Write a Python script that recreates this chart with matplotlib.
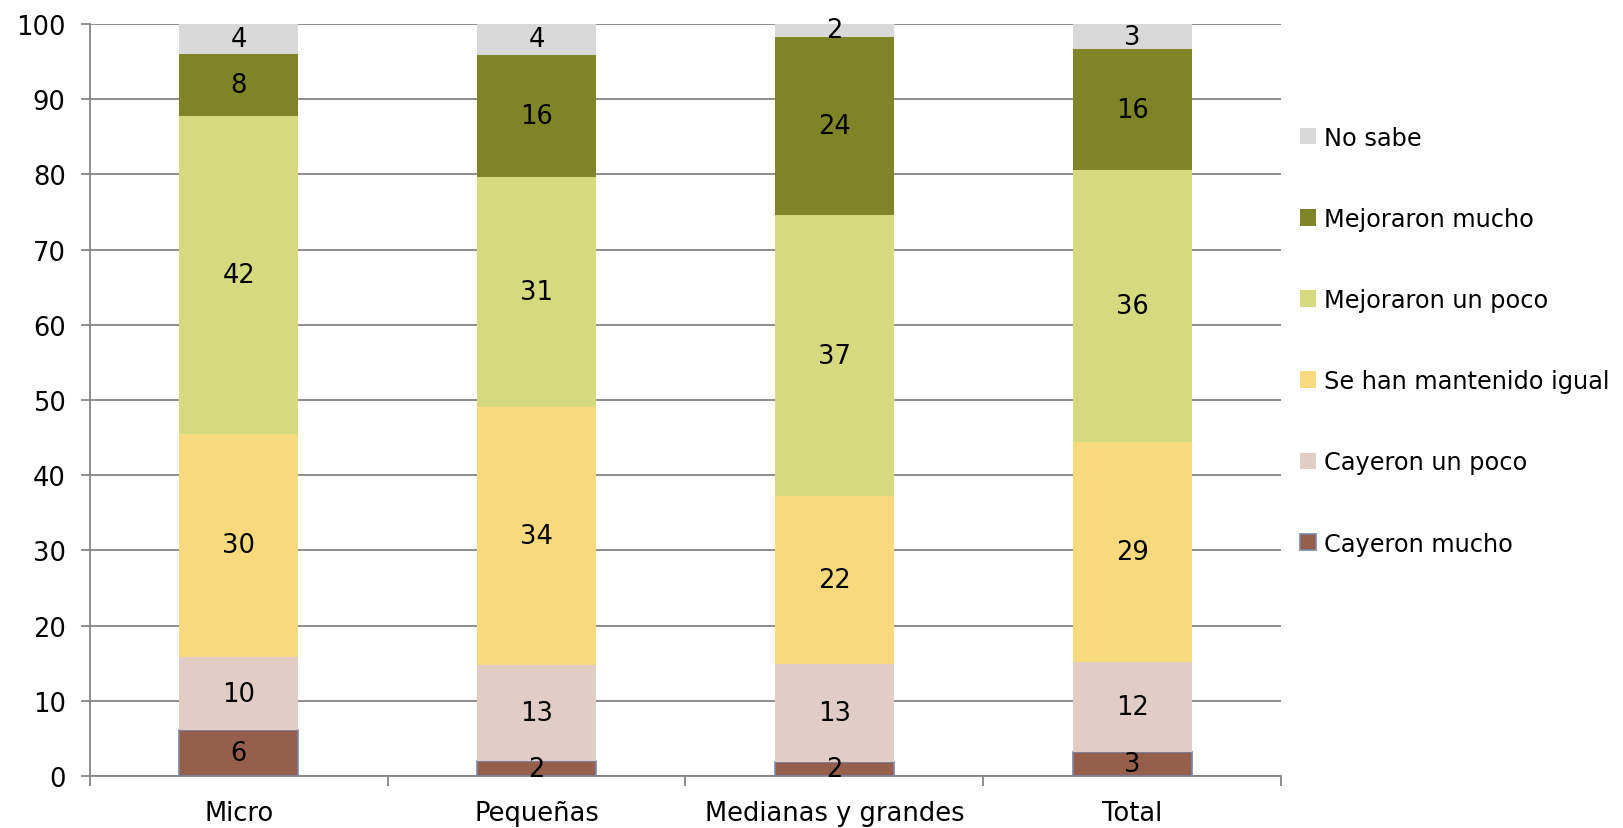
import matplotlib
matplotlib.use("Agg")
import matplotlib.pyplot as plt
import numpy as np

categories = ["Micro", "Pequeñas", "Medianas y grandes", "Total"]
series_names = ["Cayeron mucho", "Cayeron un poco", "Se han mantenido igual",
                "Mejoraron un poco", "Mejoraron mucho", "No sabe"]
cayeron_mucho = [6.05, 1.97, 1.83, 3.16]
cayeron_poco = [9.77, 12.80, 13.08, 12.03]
mantenido = [29.68, 34.25, 22.29, 29.25]
mejoraron_poco = [42.26, 30.60, 37.34, 36.15]
mejoraron_mucho = [8.23, 16.25, 23.77, 16.03]
no_sabe = [4.01, 4.15, 1.69, 3.38]

colors = ["#955F4B", "#E2CDC6", "#F9D97D", "#D4DA7D", "#7F8427", "#D9D9D9"]
data = [cayeron_mucho, cayeron_poco, mantenido, mejoraron_poco, mejoraron_mucho, no_sabe]

plt.rcParams['font.family'] = ['DejaVu Sans']
FS = 18.5
LFS = 17.3
GRAY = "#868686"

fig = plt.figure(figsize=(16.24, 8.29), dpi=100)
ax = fig.add_axes([90/1624, 1-777/829, (1281-90)/1624, (777-24.9)/829])

x = np.arange(len(categories))
bottom = np.zeros(len(categories))
handles = []
for name, vals, col in zip(series_names, data, colors):
    vals = np.array(vals)
    if name == "Cayeron mucho":
        h = ax.bar(x, vals, 0.40, bottom=bottom, color=col, edgecolor="#7A86A8",
                   linewidth=1.2, label=name, zorder=3)
    else:
        h = ax.bar(x, vals, 0.40, bottom=bottom, color=col, linewidth=0,
                   label=name, zorder=3)
    for xi, b, v in zip(x, bottom, vals):
        ax.text(xi, b + v / 2, f"{v:.0f}", ha="center", va="center",
                fontsize=FS, color="black", zorder=5)
    handles.append(h)
    bottom += vals

ax.set_xlim(-0.5, 3.5)
ax.set_ylim(0, 100)
ax.set_yticks(np.arange(0, 101, 10))
ax.yaxis.grid(True, color=GRAY, linewidth=1.3, zorder=0)
ax.set_axisbelow(True)
ax.set_xticks(x)
ax.set_xticklabels(categories, fontsize=FS)
ax.set_xticks(np.arange(-0.5, 4, 1), minor=True)
ax.tick_params(axis="x", which="major", length=0, pad=17)
ax.tick_params(axis="x", which="minor", length=7, width=1.3, color=GRAY, direction="out")
ax.tick_params(axis="y", length=6.5, width=1.3, color=GRAY, labelsize=FS, pad=11)
for s in ["top", "right"]:
    ax.spines[s].set_visible(False)
for s in ["left", "bottom"]:
    ax.spines[s].set_color(GRAY)
    ax.spines[s].set_linewidth(1.3)

leg = ax.legend(handles[::-1], series_names[::-1], loc="upper left",
                frameon=False, fontsize=LFS, labelspacing=2.38, handlelength=0.68,
                handleheight=0.68, handletextpad=0.35, borderaxespad=0)
leg.set_bbox_to_anchor((1290/1624, 1-117/829), transform=fig.transFigure)

fig.savefig("out.png", dpi=100)
